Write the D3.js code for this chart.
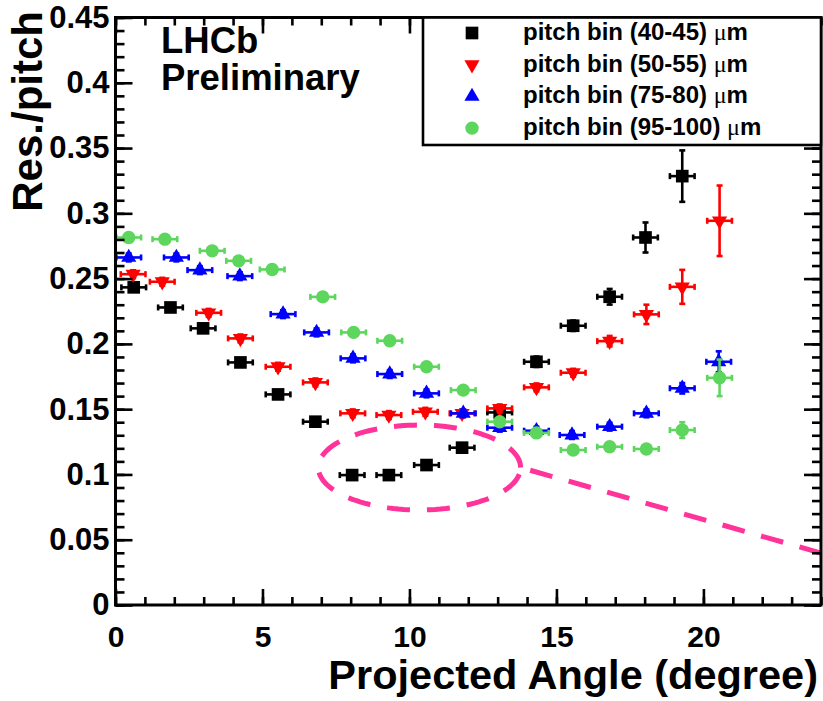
<!DOCTYPE html>
<html>
<head>
<meta charset="utf-8">
<script src="https://cdn.jsdelivr.net/npm/d3@7"></script>
<style>
body { margin: 0; background: #fff; }
text { font-family: "Liberation Sans", Arial, sans-serif; font-weight: bold; }
</style>
</head>
<body>
<div class="container"></div>
<script>
// pitch bin (40-45) um
const angle4045 = [0.62, 1.87, 2.98, 4.25, 5.53, 6.80, 8.05, 9.30, 10.58, 11.79, 13.07, 14.32, 15.57, 16.81, 18.03, 19.28];
const res4045   = [0.2433, 0.2279, 0.2119, 0.1858, 0.1613, 0.1404, 0.0995, 0.0995, 0.1072, 0.1205, 0.1475, 0.1863, 0.2139, 0.2361, 0.2815, 0.3285];
const err4045   = [0.003, 0.003, 0.003, 0.003, 0.003, 0.003, 0.003, 0.003, 0.003, 0.003, 0.003, 0.004, 0.004, 0.006, 0.0115, 0.0197];

// pitch bin (50-55) um
const angle5055 = [0.60, 1.59, 3.17, 4.25, 5.53, 6.80, 8.07, 9.30, 10.54, 11.79, 13.07, 14.32, 15.57, 16.81, 18.06, 19.28, 20.55];
const res5055   = [0.2534, 0.2476, 0.2238, 0.2042, 0.1825, 0.1705, 0.1468, 0.1455, 0.1480, 0.1468, 0.1506, 0.1667, 0.1779, 0.2021, 0.2226, 0.2437, 0.2943];
const err5055   = [0.003, 0.003, 0.003, 0.003, 0.003, 0.003, 0.003, 0.003, 0.003, 0.003, 0.003, 0.003, 0.003, 0.004, 0.0074, 0.013, 0.027];

// pitch bin (75-80) um
const angle7580 = [0.45, 2.07, 2.87, 4.23, 5.70, 6.84, 8.08, 9.33, 10.58, 11.83, 13.07, 14.32, 15.53, 16.81, 18.06, 19.28, 20.52];
const res7580   = [0.2662, 0.2662, 0.2565, 0.2519, 0.2228, 0.2088, 0.1889, 0.1769, 0.1621, 0.1468, 0.1358, 0.1335, 0.1302, 0.1366, 0.1468, 0.1660, 0.1863];
const err7580   = [0.003, 0.003, 0.003, 0.003, 0.003, 0.003, 0.003, 0.003, 0.003, 0.003, 0.003, 0.003, 0.003, 0.003, 0.003, 0.004, 0.008];

// pitch bin (95-100) um
const angle95100 = [0.45, 1.68, 3.29, 4.19, 5.33, 7.05, 8.10, 9.33, 10.58, 11.83, 13.07, 14.32, 15.57, 16.81, 18.06, 19.28, 20.55];
const res95100   = [0.2815, 0.2802, 0.2713, 0.2636, 0.2570, 0.2360, 0.2088, 0.2024, 0.1825, 0.1646, 0.1404, 0.1318, 0.1187, 0.1212, 0.1195, 0.1340, 0.1740];
const err95100   = [0.003, 0.003, 0.003, 0.003, 0.003, 0.003, 0.003, 0.003, 0.003, 0.003, 0.003, 0.003, 0.003, 0.003, 0.003, 0.006, 0.014];

const angleErr = 0.42;

const seriesNames = ["pitch bin (40-45) ", "pitch bin (50-55) ", "pitch bin (75-80) ", "pitch bin (95-100) "];
const xTicks = [0, 5, 10, 15, 20];
const yTicks = [0, 0.05, 0.1, 0.15, 0.2, 0.25, 0.3, 0.35, 0.4, 0.45];

// dashed ellipse + line annotation (data coords)
const ellipseCenter = [10.34, 0.1053];
const ellipseRadii = [3.44, 0.0325];
const lineEnd = [24, 0.0398];

const WIDTH = 823, HEIGHT = 701;
const LEFT = 115.5, RIGHT = 821, TOP = 17.5, BOTTOM = 605;

var svg = d3.select('.container').append('svg')
    .attr('width', WIDTH)
    .attr('height', HEIGHT)
    .style('display', 'block');

svg.append('rect').attr('width', WIDTH).attr('height', HEIGHT).attr('fill', '#fff');

var xScale = d3.scaleLinear().domain([0, 24]).range([LEFT, RIGHT]);
var yScale = d3.scaleLinear().domain([0, 0.45]).range([BOTTOM, TOP]);

var series = [
    {x: angle4045, y: res4045, e: err4045, color: '#000000', shape: 'square'},
    {x: angle5055, y: res5055, e: err5055, color: '#ff0000', shape: 'down'},
    {x: angle7580, y: res7580, e: err7580, color: '#0000ff', shape: 'up'},
    {x: angle95100, y: res95100, e: err95100, color: '#5cd65c', shape: 'circle'}
];

var symbolPath = function (shape) {
    if (shape === 'square') return d3.symbol(d3.symbolSquare, 160)();
    if (shape === 'circle') return d3.symbol(d3.symbolCircle, 140)();
    return d3.symbol(d3.symbolTriangle, 100)();
};
var symbolTransform = function (shape, x, y) {
    return "translate(" + x + "," + y + ")" + (shape === 'down' ? " rotate(180)" : "");
};

// ---- annotation (behind the points)
var ell = d3.range(0, 361, 3).map(function (a) {
    var t = a * Math.PI / 180;
    return [ellipseCenter[0] + ellipseRadii[0] * Math.cos(t), ellipseCenter[1] + ellipseRadii[1] * Math.sin(t)];
});
ell.push(lineEnd);
svg.append('path')
    .attr('d', d3.line().x(d => xScale(d[0])).y(d => yScale(d[1]))(ell))
    .attr('fill', 'none')
    .attr('stroke', '#ff3399')
    .attr('stroke-width', 5)
    .attr('stroke-dasharray', '23,17');

// ---- data points
var cap = 3;
series.forEach(function (s) {
    var g = svg.append('g').attr('stroke', s.color).attr('fill', s.color).attr('stroke-width', 2.6);
    s.x.forEach(function (xv, i) {
        var cx = xScale(xv), cy = yScale(s.y[i]);
        var x0 = xScale(xv - angleErr), x1 = xScale(xv + angleErr);
        var y0 = yScale(s.y[i] - s.e[i]), y1 = yScale(s.y[i] + s.e[i]);
        g.append('line').attr('x1', x0).attr('x2', x1).attr('y1', cy).attr('y2', cy);
        g.append('line').attr('x1', x0).attr('x2', x0).attr('y1', cy - cap).attr('y2', cy + cap);
        g.append('line').attr('x1', x1).attr('x2', x1).attr('y1', cy - cap).attr('y2', cy + cap);
        g.append('line').attr('x1', cx).attr('x2', cx).attr('y1', y0).attr('y2', y1);
        g.append('line').attr('x1', cx - cap).attr('x2', cx + cap).attr('y1', y0).attr('y2', y0);
        g.append('line').attr('x1', cx - cap).attr('x2', cx + cap).attr('y1', y1).attr('y2', y1);
        g.append('path').attr('d', symbolPath(s.shape)).attr('stroke', 'none')
            .attr('transform', symbolTransform(s.shape, cx, cy));
    });
});

// ---- axes / frame
var styleAxis = function (g) {
    g.select('.domain').remove();
    g.selectAll('line').attr('stroke', '#000').attr('stroke-width', 2.6);
};
var minorX = d3.range(0, 25, 1), minorY = d3.range(0, 46, 1).map(d => d / 100);

svg.append('g').attr('transform', 'translate(0,' + BOTTOM + ')')
    .call(d3.axisBottom(xScale).tickValues(minorX).tickSize(-8).tickFormat('')).call(styleAxis);
svg.append('g').attr('transform', 'translate(0,' + BOTTOM + ')')
    .call(d3.axisBottom(xScale).tickValues(xTicks).tickSize(-16).tickPadding(21).tickFormat(d3.format('d')))
    .call(styleAxis)
    .selectAll('text').attr('font-size', 30).attr('fill', '#000').attr('font-family', null);

svg.append('g').attr('transform', 'translate(0,' + TOP + ')')
    .call(d3.axisTop(xScale).tickValues(minorX).tickSize(-8).tickFormat('')).call(styleAxis);
svg.append('g').attr('transform', 'translate(0,' + TOP + ')')
    .call(d3.axisTop(xScale).tickValues(xTicks).tickSize(-16).tickFormat('')).call(styleAxis);

svg.append('g').attr('transform', 'translate(' + LEFT + ',0)')
    .call(d3.axisLeft(yScale).tickValues(minorY).tickSize(-9).tickFormat('')).call(styleAxis);
svg.append('g').attr('transform', 'translate(' + LEFT + ',0)')
    .call(d3.axisLeft(yScale).tickValues(yTicks).tickSize(-17).tickPadding(6)
        .tickFormat(d => d === 0 ? '0' : d3.format('.2~f')(d)))
    .call(styleAxis)
    .selectAll('text').attr('font-size', 31).attr('fill', '#000').attr('font-family', null);

svg.append('g').attr('transform', 'translate(' + RIGHT + ',0)')
    .call(d3.axisRight(yScale).tickValues(minorY).tickSize(-9).tickFormat('')).call(styleAxis);
svg.append('g').attr('transform', 'translate(' + RIGHT + ',0)')
    .call(d3.axisRight(yScale).tickValues(yTicks).tickSize(-17).tickFormat('')).call(styleAxis);

svg.append('rect')
    .attr('x', LEFT).attr('y', TOP)
    .attr('width', RIGHT - LEFT).attr('height', BOTTOM - TOP)
    .attr('fill', 'none').attr('stroke', '#000').attr('stroke-width', 3);

// ---- titles
svg.append('text')
    .attr('x', 818).attr('y', 689)
    .attr('text-anchor', 'end')
    .attr('font-size', 41.5)
    .text('Projected Angle (degree)');

svg.append('text')
    .attr('transform', 'translate(42,11) rotate(-90)')
    .attr('text-anchor', 'end')
    .attr('font-size', 42)
    .text('Res./pitch');

svg.append('text').attr('x', 161).attr('y', 53).attr('font-size', 36.5).text('LHCb');
svg.append('text').attr('x', 161).attr('y', 90).attr('font-size', 36.5).text('Preliminary');

// ---- legend
svg.append('rect')
    .attr('x', 423).attr('y', TOP)
    .attr('width', RIGHT - 423).attr('height', 145 - TOP)
    .attr('fill', '#fff').attr('stroke', '#000').attr('stroke-width', 2.6);

series.forEach(function (s, i) {
    var ly = 33 + i * 31.7;
    svg.append('path').attr('d', symbolPath(s.shape)).attr('fill', s.color)
        .attr('transform', symbolTransform(s.shape, 472, ly));
    var t = svg.append('text').attr('x', 523).attr('y', ly + 7).attr('font-size', 24);
    t.append('tspan').text(seriesNames[i]);
    t.append('tspan').attr('font-family', '"Liberation Serif", serif').attr('font-weight', 'normal').text('\u03bc');
    t.append('tspan').text('m');
});
</script>
</body>
</html>
